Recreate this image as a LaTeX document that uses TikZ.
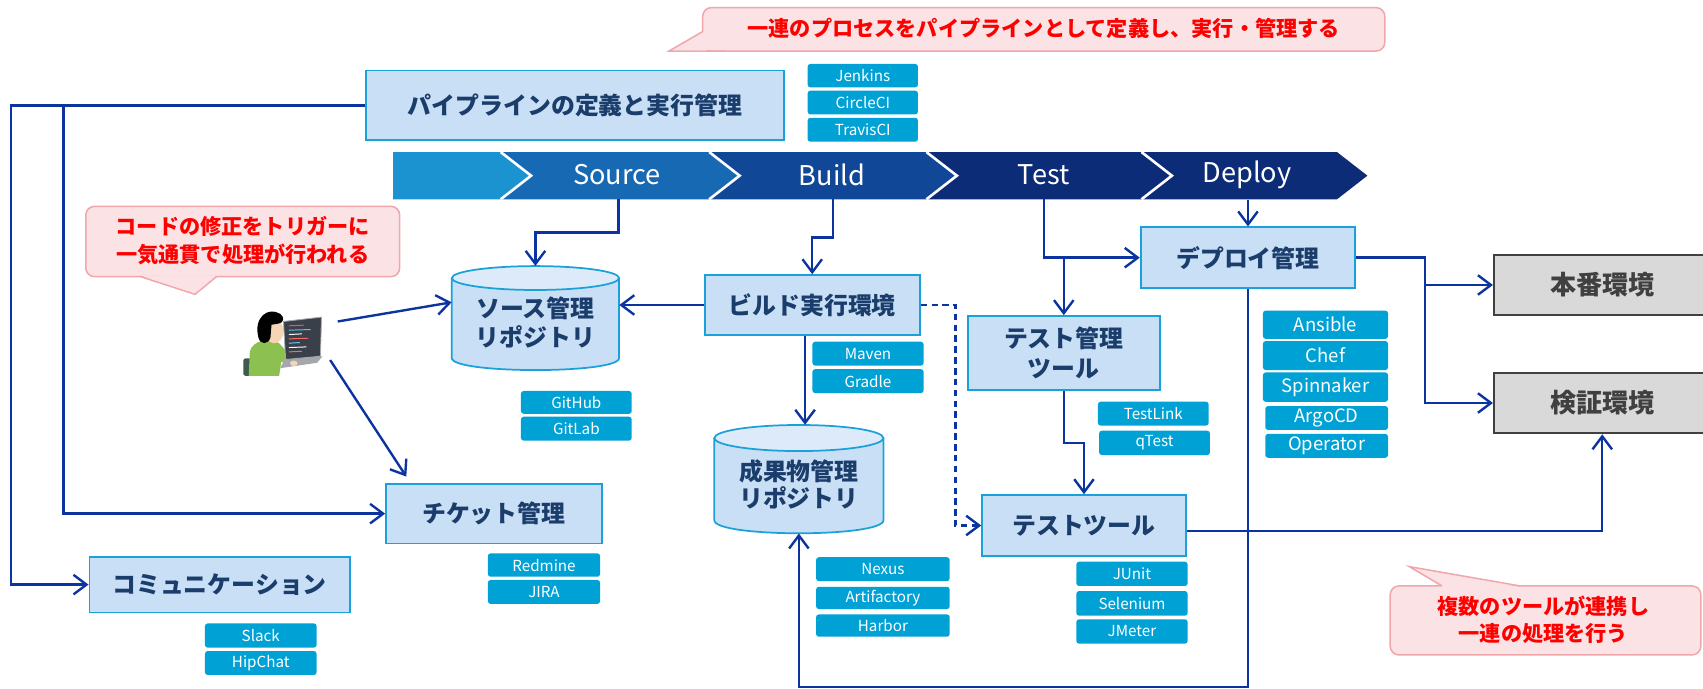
\documentclass[tikz,border=0pt]{standalone}
\usepackage{fontspec}
\setmainfont{Noto Sans CJK JP}
\newfontfamily\jp{Noto Sans CJK JP}
\usetikzlibrary{arrows.meta}

\definecolor{boxfill}{HTML}{C9DFF6}
\definecolor{boxline}{HTML}{1BA1D9}
\definecolor{boxtext}{HTML}{1A3D6B}
\definecolor{cyltop}{HTML}{DCEAFA}
\definecolor{tagfill}{HTML}{00A2D6}
\definecolor{linec}{HTML}{0B34A0}
\definecolor{envfill}{HTML}{D9D9D9}
\definecolor{envline}{HTML}{404040}
\definecolor{envtext}{HTML}{404040}
\definecolor{callfill}{HTML}{FBE3E5}
\definecolor{callline}{HTML}{EFA7AB}
\definecolor{callred}{HTML}{FF0000}
\definecolor{stg0}{HTML}{1B93D1}
\definecolor{stg1}{HTML}{1769B3}
\definecolor{stg2}{HTML}{104796}
\definecolor{stg3}{HTML}{0D2C78}
\definecolor{skin}{HTML}{F6D5B5}
\definecolor{shirt}{HTML}{8CC152}
\definecolor{chairc}{HTML}{3E5B4C}
\definecolor{scr}{HTML}{3A4049}
\definecolor{kbd}{HTML}{A4A7AB}

\tikzset{
  proc/.style={draw=boxline, fill=boxfill, line width=1.6pt, text=boxtext,
    font=\jp\bfseries\fontsize{22}{27}\selectfont, align=center, inner sep=0pt},
  envbox/.style={draw=envline, fill=envfill, line width=1.8pt, text=envtext,
    font=\jp\bfseries\fontsize{24}{28}\selectfont, inner sep=0pt},
  tag/.style={fill=tagfill, rounded corners=2.5pt, text=white,
    font=\jp\fontsize{14}{16}\selectfont, inner sep=0pt},
  bigtag/.style={tag, font=\jp\fontsize{17}{19}\selectfont},
  conn/.style={draw=linec, line width=2.2pt, -{Straight Barb[length=12pt,width=18pt]}},
  plainline/.style={draw=linec, line width=2.2pt},
  dashconn/.style={conn, dashed, dash pattern=on 6pt off 4pt},
  callbox/.style={fill=callfill, draw=callline, line width=1.4pt, rounded corners=8pt},
  calltext/.style={text=callred, font=\jp\bfseries\fontsize{19.5}{25}\selectfont, align=center},
  stage/.style={text=white, font=\jp\fontsize{25}{28}\selectfont},
  cylanchor/.style={inner sep=0pt, draw=none},
}

\begin{document}
\begin{tikzpicture}[x=1pt,y=-1pt]
\useasboundingbox (0,0) rectangle (1568,634);

% ---------- callouts ----------
\draw[callbox] (647,7) rectangle (1275,47);
\fill[callfill] (648,29) -- (616,46.5) -- (668,46) -- cycle;
\draw[callline, line width=1.4pt] (647,29) -- (616,47) -- (668,47);
\node[calltext] (msgtop) at (961,26.5) {一連のプロセスをパイプラインとして定義し、実行・管理する};

\draw[callbox] (79,190) rectangle (368,254.7);
\fill[callfill] (129.5,253.8) -- (179.6,270) -- (199.3,253.8) -- cycle;
\draw[callline, line width=1.4pt] (129.5,254.7) -- (179.6,271) -- (199.3,254.7);
\node[calltext] (msgleft) at (223.5,221.5) {コードの修正をトリガーに\\一気通貫で処理が行われる};

\draw[callbox] (1280,539.5) rectangle (1566,603);
\fill[callfill] (1327.7,540.4) -- (1297.6,521.7) -- (1399.5,540.4) -- cycle;
\draw[callline, line width=1.4pt] (1327.7,539.5) -- (1297.6,521.7) -- (1399.5,539.5);
\node[calltext] (msgright) at (1421,571) {複数のツールが連携し\\一連の処理を行う};

% ---------- pipeline stages ----------
\fill[stg0] (362,140) -- (461,140) -- (489,161.75) -- (461,183.5) -- (362,183.5) -- cycle;
\fill[stg1] (461,140) -- (653,140) -- (681,161.75) -- (653,183.5) -- (461,183.5) -- (489,161.75) -- cycle;
\fill[stg2] (653,140) -- (853,140) -- (881,161.75) -- (853,183.5) -- (653,183.5) -- (681,161.75) -- cycle;
\fill[stg3] (853,140) -- (1051,140) -- (1079,161.75) -- (1051,183.5) -- (853,183.5) -- (881,161.75) -- cycle;
\fill[stg3] (1051,140) -- (1231,140) -- (1259,161.75) -- (1231,183.5) -- (1051,183.5) -- (1079,161.75) -- cycle;
\foreach \sx in {461,653,853,1051}
  \draw[white, line width=2.4pt] (\sx,140) -- (\sx+28,161.75) -- (\sx,183.5);
\node[stage] (stsrc) at (568,161) {Source};
\node[stage] (stbld) at (766,161) {Build};
\node[stage] (sttst) at (961,161) {Test};
\node[stage] (stdep) at (1148,161) {Deploy};
\coordinate (srcbot) at (569.3,183.5);
\coordinate (bldbot) at (767,183.5);
\coordinate (tstbot) at (961.4,183.5);
\coordinate (depbot) at (1149.05,184);

% ---------- process boxes ----------
\node[proc, minimum width=385pt, minimum height=64pt] (pipe) at (529.5,97) {パイプラインの定義と実行管理};
\node[proc, minimum width=198pt, minimum height=55pt] (build) at (747.85,280.8) {ビルド実行環境};
\node[proc, minimum width=198.6pt, minimum height=54.7pt] (ticket) at (454.7,472.95) {チケット管理};
\node[proc, minimum width=239.7pt, minimum height=51.5pt] (comm) at (202.15,538.25) {コミュニケーション};
\node[proc, minimum width=176.9pt, minimum height=68pt] (testmgmt) at (979.45,325) {テスト管理\\ツール};
\node[proc, minimum width=187.7pt, minimum height=56.1pt] (testtool) at (998.05,483.85) {テストツール};
\node[proc, minimum width=197.7pt, minimum height=55.9pt] (deploy) at (1149.05,237.25) {デプロイ管理};
\node[envbox, minimum width=199.5pt, minimum height=55.2pt, text width=199.5pt, align=center] (honban) at (1475.25,262.4) {本番環境};
\node[envbox, minimum width=199.5pt, minimum height=55.9pt, text width=199.5pt, align=center] (kensho) at (1475.25,371.05) {検証環境};

% ---------- repositories (cylinders) ----------
% source repository: x 416..570, y 245..340.7
\fill[boxfill] (416,256) -- (416,329.7) .. controls (416,344.4) and (570,344.4) .. (570,329.7) -- (570,256) -- cycle;
\draw[boxline, line width=1.6pt] (416,256) -- (416,329.7) .. controls (416,344.4) and (570,344.4) .. (570,329.7) -- (570,256);
\draw[boxline, fill=cyltop, line width=1.6pt] (493,256) ellipse [x radius=77, y radius=11];
\node[cylanchor, minimum width=154pt, minimum height=95.7pt] (srcrepo) at (493,292.85) {};
\node[text=boxtext, font=\jp\bfseries\fontsize{22}{26.5}\selectfont, align=center] (srclabel) at (493,297) {ソース管理\\リポジトリ};

% artifact repository: x 657.7..813.4, y 391.3..491
\fill[boxfill] (657.7,403.3) -- (657.7,479) .. controls (657.7,495) and (813.4,495) .. (813.4,479) -- (813.4,403.3) -- cycle;
\draw[boxline, line width=1.6pt] (657.7,403.3) -- (657.7,479) .. controls (657.7,495) and (813.4,495) .. (813.4,479) -- (813.4,403.3);
\draw[boxline, fill=cyltop, line width=1.6pt] (735.55,403.3) ellipse [x radius=77.85, y radius=12];
\node[cylanchor, minimum width=155.7pt, minimum height=99.7pt] (artrepo) at (735.55,441.15) {};
\node[text=boxtext, font=\jp\bfseries\fontsize{22}{25}\selectfont, align=center] (artlabel) at (735.55,446) {成果物管理\\リポジトリ};

% ---------- tool tags ----------
\node[tag, minimum width=101.6pt, minimum height=21.5pt] (tjenkins) at (794.4,69.65) {Jenkins};
\node[tag, minimum width=101.6pt, minimum height=21.8pt] (tcircle) at (794.4,94.4) {CircleCI};
\node[tag, minimum width=101.6pt, minimum height=22pt] (ttravis) at (794.4,119.5) {TravisCI};
\node[tag, minimum width=102pt, minimum height=21pt] (tgithub) at (530.65,370.5) {GitHub};
\node[tag, minimum width=102pt, minimum height=22pt] (tgitlab) at (530.65,394.7) {GitLab};
\node[tag, minimum width=102.4pt, minimum height=22pt] (tmaven) at (799.2,325.65) {Maven};
\node[tag, minimum width=102.4pt, minimum height=22pt] (tgradle) at (799.2,350.9) {Gradle};
\node[tag, minimum width=102pt, minimum height=22pt] (ttestlink) at (1061.85,380.85) {TestLink};
\node[tag, minimum width=102pt, minimum height=22.5pt] (tqtest) at (1063,407.75) {qTest};
\node[tag, minimum width=123pt, minimum height=22pt] (tnexus) at (812.9,524.05) {Nexus};
\node[tag, minimum width=123pt, minimum height=20.5pt] (tartif) at (812.9,550.5) {Artifactory};
\node[tag, minimum width=123pt, minimum height=20.5pt] (tharbor) at (812.9,576) {Harbor};
\node[tag, minimum width=102.5pt, minimum height=22.3pt] (tjunit) at (1042.25,528.35) {JUnit};
\node[tag, minimum width=102.5pt, minimum height=22.7pt] (tselen) at (1042.25,555.55) {Selenium};
\node[tag, minimum width=102.5pt, minimum height=22.4pt] (tjmeter) at (1042.25,581.4) {JMeter};
\node[tag, minimum width=103.3pt, minimum height=21.5pt] (tredmine) at (500.85,520.25) {Redmine};
\node[tag, minimum width=103.3pt, minimum height=22pt] (tjira) at (500.85,545) {JIRA};
\node[tag, minimum width=102.8pt, minimum height=22.3pt] (tslack) at (240.1,585.15) {Slack};
\node[tag, minimum width=102.8pt, minimum height=22pt] (thipchat) at (240.1,610.45) {HipChat};
\node[bigtag, minimum width=115.2pt, minimum height=26pt] (tansible) at (1220.4,299) {Ansible};
\node[bigtag, minimum width=115.2pt, minimum height=26.7pt] (tchef) at (1220.4,327.35) {Chef};
\node[bigtag, minimum width=115.2pt, minimum height=27pt] (tspin) at (1220.4,356.45) {Spinnaker};
\node[bigtag, minimum width=113pt, minimum height=22pt] (targo) at (1221.5,384.85) {ArgoCD};
\node[bigtag, minimum width=113pt, minimum height=22pt] (toper) at (1221.5,410.5) {Operator};

% ---------- developer at a laptop ----------
\node[inner sep=0pt, minimum width=74pt, minimum height=62pt] (dev) at (260,316) {};
\fill[chairc, rounded corners=2pt] (224,330) rectangle (246,346);
\fill[shirt] (229,346) -- (230,324) .. controls (232,313) and (250,310) .. (257,316)
  -- (266,326) -- (273,331) -- (270,337) -- (259,333) -- (257,346) -- cycle;
\fill[skin] (252.5,305) ellipse [x radius=8.5, y radius=11];
\fill[black] (238,311) .. controls (233,292) and (247,282) .. (258,289)
  .. controls (262,292) and (262,297) .. (256,298) -- (250,299) -- (249,311)
  .. controls (247,317) and (240,318) .. (238,311) -- cycle;
\fill[kbd] (258,339) -- (292,334) -- (297,328) -- (262,331) -- cycle;
\fill[scr] (261,296) -- (296,292) -- (295,328) -- (263,331) -- cycle;
\draw[kbd, line width=0.8pt] (261,296) -- (296,292) -- (295,328) -- (263,331) -- cycle;
\foreach \yy/\cc/\ll in {300/red!70/14,304/cyan!70/20,308/white!80/12,312/red!60/18,316/cyan!60/10,320/white!70/16,324/red!60/12}
  \draw[\cc, line width=0.9pt] (266,\yy) -- ++(\ll,-0.6);
\fill[skin] (270.5,334.5) ellipse [x radius=3.5, y radius=2.5];

% ---------- connectors ----------
\coordinate (lout) at (10,97);
\coordinate (lin) at (58.4,97);
\draw[conn] (pipe.west) -- (lout) |- (comm.west);
\draw[conn] (lin) |- (ticket.west);

\coordinate (devtop) at (311,296);
\coordinate (devlow) at (304,331.5);
\draw[conn] (devtop) -- ([yshift=14.5pt]srcrepo.west);
\draw[conn] (devlow) -- ([xshift=19.5pt,yshift=6pt]ticket.north west);

\draw[conn] (srcbot) -- (569.3,214) -| (srcrepo.north);
\draw[conn] (bldbot) -- (767,218.5) -| (build.north);
\draw[conn] (build.west) -- (srcrepo.east |- build.west);
\draw[conn] ([xshift=-6.6pt]build.south) -- ([xshift=-6.6pt]build.south |- artrepo.north);
\draw[dashconn] (build.east) -- (879.6,280.8) |- (testtool.west);

\coordinate (tj) at (979.45,237.25);
\draw[conn] (tstbot) |- (deploy.west);
\draw[conn] (tj) -- (testmgmt.north);
\draw[conn] (testmgmt.south) -- ++(0,48.3) -| (testtool.north);

\draw[conn] (depbot) -- (deploy.north);
\draw[conn] (deploy.south) -- (1149.05,632.3) -| (artrepo.south);

\coordinate (dj) at (1311.8,237.25);
\draw[conn] (deploy.east) -- (dj) |- (honban.west);
\draw[conn] (dj) |- (kensho.west);
\draw[conn] ([yshift=-5pt]testtool.east) -| (kensho.south);
\end{tikzpicture}
\end{document}
